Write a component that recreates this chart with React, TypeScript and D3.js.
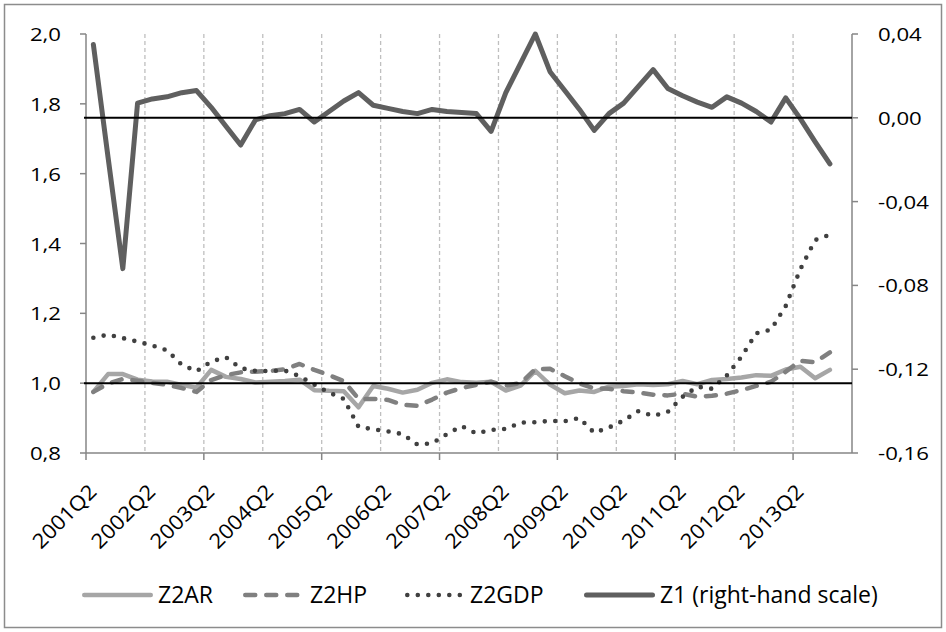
import React from "react";
import * as d3 from "d3";

// quarters shown on the category axis (2001Q2 .. 2014Q1)
const categories = [
  "2001Q2", "2001Q3", "2001Q4", "2002Q1", "2002Q2", "2002Q3", "2002Q4", "2003Q1",
  "2003Q2", "2003Q3", "2003Q4", "2004Q1", "2004Q2", "2004Q3", "2004Q4", "2005Q1",
  "2005Q2", "2005Q3", "2005Q4", "2006Q1", "2006Q2", "2006Q3", "2006Q4", "2007Q1",
  "2007Q2", "2007Q3", "2007Q4", "2008Q1", "2008Q2", "2008Q3", "2008Q4", "2009Q1",
  "2009Q2", "2009Q3", "2009Q4", "2010Q1", "2010Q2", "2010Q3", "2010Q4", "2011Q1",
  "2011Q2", "2011Q3", "2011Q4", "2012Q1", "2012Q2", "2012Q3", "2012Q4", "2013Q1",
  "2013Q2", "2013Q3", "2013Q4", "2014Q1",
];

const z2ar = [
  0.975, 1.026, 1.026, 1.010, 1.005, 1.004, 0.995, 0.987, 1.038, 1.018,
  1.012, 1.002, 1.004, 1.006, 1.010, 0.980, 0.978, 0.977, 0.931, 0.992,
  0.984, 0.973, 0.981, 1.001, 1.011, 1.003, 1.001, 1.004, 0.979, 0.993,
  1.035, 0.996, 0.971, 0.979, 0.975, 0.990, 0.992, 0.997, 0.995, 0.997,
  1.006, 0.997, 1.009, 1.012, 1.016, 1.023, 1.021, 1.039, 1.047, 1.014,
  1.038,
];

const z2hp = [
  0.975, 0.999, 1.012, 1.007, 1.001, 0.995, 0.986, 0.975, 1.009, 1.023,
  1.031, 1.033, 1.035, 1.040, 1.055, 1.038, 1.023, 1.006, 0.955, 0.955,
  0.952, 0.938, 0.935, 0.953, 0.973, 0.986, 0.995, 1.004, 0.993, 1.000,
  1.040, 1.041, 1.020, 0.999, 0.985, 0.984, 0.977, 0.973, 0.967, 0.965,
  0.970, 0.961, 0.964, 0.970, 0.980, 0.992, 1.004, 1.033, 1.064, 1.060,
  1.088,
];

const z2gdp = [
  1.130, 1.139, 1.129, 1.119, 1.108, 1.094, 1.053, 1.034, 1.062, 1.074,
  1.043, 1.035, 1.035, 1.036, 1.020, 0.996, 0.973, 0.955, 0.875, 0.868,
  0.862, 0.854, 0.824, 0.828, 0.854, 0.877, 0.856, 0.866, 0.869, 0.887,
  0.888, 0.892, 0.891, 0.900, 0.858, 0.873, 0.893, 0.920, 0.906, 0.918,
  0.961, 0.990, 0.984, 1.022, 1.076, 1.143, 1.153, 1.221, 1.327, 1.410,
  1.425,
];

// right-hand scale
const z1 = [
  0.035, -0.019, -0.072, 0.007, 0.009, 0.010, 0.012, 0.013, 0.005, -0.004,
  -0.013, -0.001, 0.001, 0.002, 0.004, -0.002, 0.003, 0.008, 0.012, 0.006,
  0.0045, 0.003, 0.002, 0.004, 0.003, 0.0025, 0.002, -0.0065, 0.012, 0.026,
  0.040, 0.022, 0.013, 0.004, -0.006, 0.002, 0.007, 0.015, 0.023, 0.014,
  0.0105, 0.0075, 0.005, 0.010, 0.007, 0.003, -0.002, 0.0095, -0.0005, -0.0115,
  -0.022,
];

const leftTicks = [0.8, 1.0, 1.2, 1.4, 1.6, 1.8, 2.0];
const rightTicks = [-0.16, -0.12, -0.08, -0.04, 0.0, 0.04];

const FONT = "'Open Sans', 'Noto Sans', sans-serif";
const SX = 1.2; // axis text in the reference is stretched sideways

const series = [
  { name: "Z2AR", values: z2ar, axis: "left", color: "#a6a6a6", width: 4.5, dash: null },
  { name: "Z2HP", values: z2hp, axis: "left", color: "#808080", width: 4.5, dash: "10 11" },
  { name: "Z2GDP", values: z2gdp, axis: "left", color: "#404040", width: 4.6, dash: "0 10.5" },
  { name: "Z1 (right-hand scale)", values: z1, axis: "right", color: "#5f5f5f", width: 5, dash: null },
];

// legend start positions
const legendX = [82, 243, 405, 584];
const legendLen = [71, 62, 60, 71];

export default function App() {
  const W = 946;
  const H = 632;
  const left = 86;
  const right = 852;
  const top = 34;
  const bottom = 453;

  const x = d3.scaleBand<string>().domain(categories).range([left, right]).padding(0);
  const bw = x.bandwidth();
  const cx = (i: number) => (x(categories[i]) as number) + bw / 2;

  const yL = d3.scaleLinear().domain([0.8, 2.0]).range([bottom, top]);
  const yR = d3.scaleLinear().domain([-0.16, 0.04]).range([bottom, top]);

  const fmt = (v: number, d: number) => v.toFixed(d).replace(".", ",");

  const lineFor = (s: any) =>
    d3
      .line<number>()
      .x((_, i) => cx(i))
      .y((v) => (s.axis === "left" ? yL(v) : yR(v)))(s.values) as string;

  const gridIdx = d3.range(4, categories.length, 4);
  const tickIdx = d3.range(0, categories.length, 8);
  const labelIdx = d3.range(0, categories.length, 4);

  return (
    <svg
      width={W}
      height={H}
      style={{ position: "absolute", left: 0, top: 0, background: "#fff" }}
      fontFamily={FONT}
    >
      <rect x={4.5} y={4.5} width={937} height={623} fill="#fff" stroke="#8c8c8c" strokeWidth={1.5} />

      {/* vertical dashed gridlines */}
      {gridIdx.map((i) => (
        <line
          key={"g" + i}
          x1={x(categories[i]) as number}
          x2={x(categories[i]) as number}
          y1={top}
          y2={bottom}
          stroke="#bfbfbf"
          strokeWidth={1.3}
          strokeDasharray="4 3"
        />
      ))}

      {/* axes */}
      <line x1={left} x2={left} y1={top} y2={bottom} stroke="#868686" strokeWidth={1.5} />
      <line x1={right} x2={right} y1={top} y2={bottom} stroke="#868686" strokeWidth={1.5} />
      <line x1={left} x2={right} y1={bottom} y2={bottom} stroke="#868686" strokeWidth={1.5} />

      {leftTicks.map((t) => (
        <g key={"l" + t}>
          <line x1={left - 6} x2={left} y1={yL(t)} y2={yL(t)} stroke="#868686" strokeWidth={1.5} />
          <text
            transform={`translate(61,${yL(t) + 7}) scale(${SX},1)`}
            textAnchor="end"
            fontSize={18.5}
            fill="#000"
          >
            {fmt(t, 1)}
          </text>
        </g>
      ))}

      {rightTicks.map((t) => (
        <g key={"r" + t}>
          <line x1={right} x2={right + 6} y1={yR(t)} y2={yR(t)} stroke="#868686" strokeWidth={1.5} />
          <text
            transform={`translate(878,${yR(t) + 7}) scale(${SX},1)`}
            textAnchor="start"
            fontSize={18.5}
            fill="#000"
          >
            {fmt(t, 2)}
          </text>
        </g>
      ))}

      {tickIdx.map((i) => (
        <line
          key={"t" + i}
          x1={x(categories[i]) as number}
          x2={x(categories[i]) as number}
          y1={bottom}
          y2={bottom + 7}
          stroke="#868686"
          strokeWidth={1.5}
        />
      ))}

      {labelIdx.map((i) => (
        <text
          key={"x" + i}
          transform={`translate(${cx(i) + 4.5},493) rotate(-45) scale(1.08,1)`}
          textAnchor="end"
          fontSize={20.5}
          fill="#000"
        >
          {categories[i]}
        </text>
      ))}

      {/* series */}
      {series.map((s) => (
        <path
          key={s.name}
          d={lineFor(s)}
          fill="none"
          stroke={s.color}
          strokeWidth={s.width}
          strokeDasharray={s.dash || undefined}
          strokeLinecap="round"
          strokeLinejoin="round"
        />
      ))}

      {/* reference lines at 1,0 (left) and 0,00 (right) */}
      <line x1={left - 2} x2={right} y1={yL(1.0)} y2={yL(1.0)} stroke="#000" strokeWidth={2} />
      <line x1={left - 2} x2={right} y1={yR(0)} y2={yR(0)} stroke="#000" strokeWidth={2} />

      {/* legend */}
      {series.map((s, k) => {
        const x0 = legendX[k];
        const len = legendLen[k];
        const pad = s.width / 2;
        return (
          <g key={"lg" + k}>
            <line
              x1={x0 + pad}
              x2={x0 + len - pad}
              y1={595}
              y2={595}
              stroke={s.color}
              strokeWidth={s.width}
              strokeDasharray={s.dash || undefined}
              strokeLinecap="round"
            />
            <text x={x0 + len + 5} y={603} fontSize={23} fill="#000">
              {s.name}
            </text>
          </g>
        );
      })}
    </svg>
  );
}
